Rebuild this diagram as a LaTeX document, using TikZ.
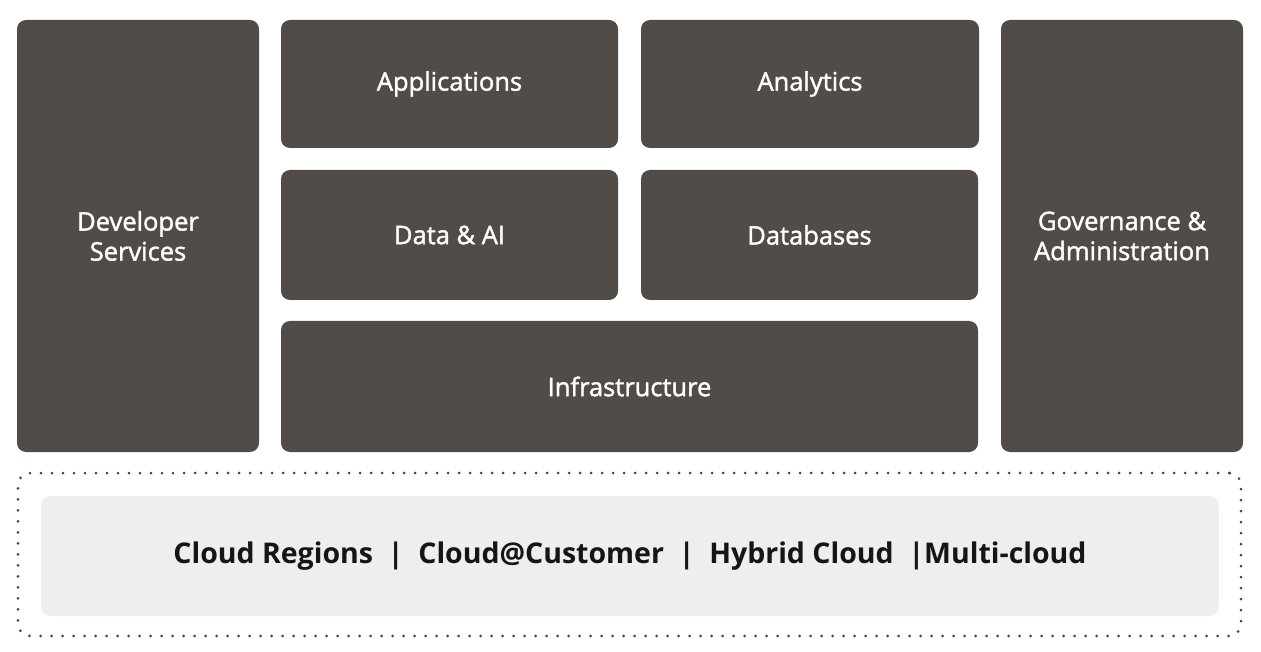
\documentclass[tikz,border=0pt]{standalone}
\usepackage{fontspec}
\setmainfont{Open Sans}
\newfontfamily\tilefont[FakeBold=1.6]{Open Sans}
\usetikzlibrary{
    positioning,
    fit
}
\definecolor{tileclr}{HTML}{514C47}
\definecolor{baseclr}{HTML}{EFEEED}
\definecolor{dotclr}{HTML}{4A4540}
\definecolor{inkclr}{HTML}{161513}
\tikzset{
  tile/.style={
    fill=tileclr,
    draw=none,
    rounded corners=9pt,
    text=white,
    align=center,
    inner sep=0pt,
    font=\tilefont\fontsize{25.5}{30}\selectfont
  },
  ring/.style={
    draw=dotclr,
    line width=3pt,
    dash pattern=on 0pt off 11pt,
    line cap=round,
    rounded corners=12pt,
    inner sep=0pt
  },
  band/.style={
    fill=baseclr,
    rounded corners=10pt,
    inner sep=0pt,
    text=inkclr,
    font=\bfseries\fontsize{28.5}{32}\selectfont
  }
}

\begin{document}
\begin{tikzpicture}[x=1pt,y=-1pt]
\useasboundingbox (0,0) rectangle (1261,652);
% side columns
\node[tile, minimum width=242pt, minimum height=432pt] (dev) at (138,236) {Developer\\Services};
\node[tile, minimum width=242pt, minimum height=432pt] (gov) at (1122,236) {Governance \&\\Administration};
% middle stack
\node[tile, minimum width=337pt, minimum height=128pt] (app) at (449.5,84) {Applications};
\node[tile, minimum width=338pt, minimum height=128pt] (ana) at (810,84) {Analytics};
\node[tile, minimum width=337pt, minimum height=130pt] (dai) at (449.5,235) {Data \& AI};
\node[tile, minimum width=337pt, minimum height=130pt] (dbs) at (809.5,235) {Databases};
\node[tile, minimum width=697pt, minimum height=131pt] (infra) at (629.5,386.5) {Infrastructure};
% deployment band
\node[ring, minimum width=1223pt, minimum height=163pt] (ring) at (629.5,554.5) {};
\node[band, minimum width=1178pt, minimum height=120pt] (regions) at (630,556)
  {Cloud Regions~~|~~Cloud@Customer~~|~~Hybrid Cloud~~|Multi-cloud};
\end{tikzpicture}
\end{document}
